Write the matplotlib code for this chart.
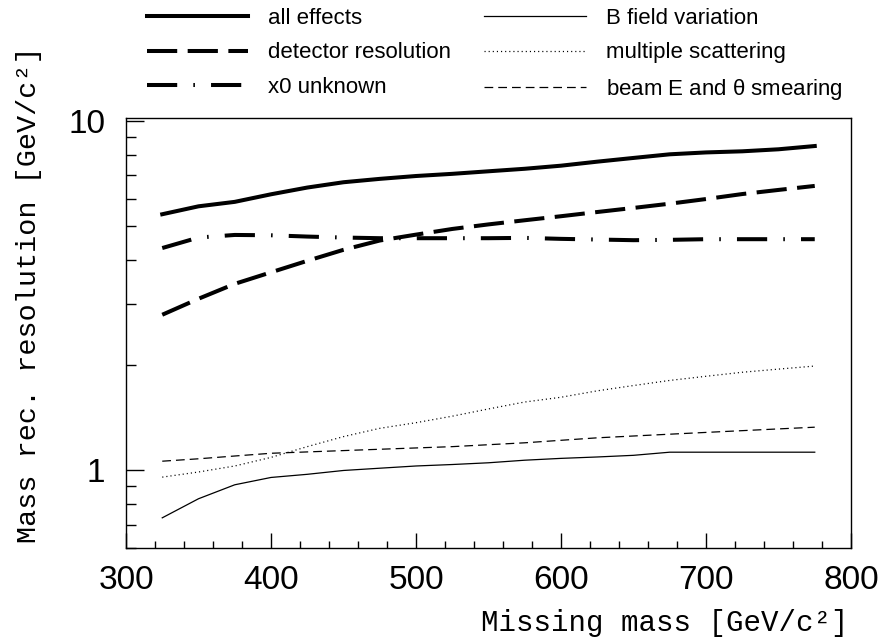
import matplotlib
matplotlib.use("Agg")
import matplotlib.pyplot as plt
from matplotlib.ticker import FixedLocator, NullFormatter

# missing mass points [GeV/c^2]
mass = [325, 350, 375, 400, 425, 450, 475, 500, 525, 550,
        575, 600, 625, 650, 675, 700, 725, 750, 775]

# mass reconstruction resolution [GeV/c^2] per effect
all_effects = [5.41, 5.70, 5.87, 6.17, 6.45, 6.68, 6.83, 6.96, 7.06, 7.18,
               7.30, 7.45, 7.65, 7.84, 8.03, 8.13, 8.19, 8.30, 8.48]
detector_res = [2.79, 3.10, 3.42, 3.69, 3.98, 4.28, 4.55, 4.73, 4.91, 5.06,
                5.20, 5.34, 5.49, 5.64, 5.80, 5.98, 6.18, 6.35, 6.52]
x0_unknown = [4.33, 4.64, 4.72, 4.71, 4.67, 4.64, 4.62, 4.62, 4.62, 4.62,
              4.63, 4.60, 4.58, 4.56, 4.57, 4.59, 4.59, 4.59, 4.59]
b_field = [0.732, 0.83, 0.91, 0.955, 0.975, 1.0, 1.015, 1.03, 1.04, 1.052,
           1.07, 1.083, 1.093, 1.105, 1.128, 1.128, 1.128, 1.128, 1.128]
mult_scatt = [0.957, 0.99, 1.03, 1.09, 1.17, 1.25, 1.32, 1.37, 1.43, 1.50,
              1.57, 1.62, 1.69, 1.75, 1.81, 1.86, 1.91, 1.95, 1.99]
beam_smear = [1.063, 1.08, 1.10, 1.12, 1.13, 1.14, 1.15, 1.16, 1.17, 1.185,
              1.20, 1.22, 1.24, 1.255, 1.27, 1.285, 1.30, 1.315, 1.33]

labels = ["all effects", "detector resolution", "x0 unknown",
          "B field variation", "multiple scattering", r"beam E and $\theta$ smearing"]

plt.rcParams['font.family'] = ['Liberation Sans', 'DejaVu Sans']
plt.rcParams['mathtext.fontset'] = 'custom'
plt.rcParams['mathtext.rm'] = 'Liberation Sans'
plt.rcParams['mathtext.it'] = 'Liberation Sans'

fig = plt.figure(figsize=(8.81, 6.41), dpi=100)
ax = fig.add_axes([126/881, 1-548/641, 725/881, 430/641])

thick = 2.9
thin = 0.9
ax.plot(mass, all_effects, color='black', lw=thick, label=labels[0])
ax.plot(mass, detector_res, color='black', lw=thick, dashes=(7.5, 2.6),
        dash_capstyle='butt', label=labels[1])
ax.plot(mass, x0_unknown, color='black', lw=thick, dashes=(7.5, 4.0, 0.4, 4.0),
        dash_capstyle='butt', label=labels[2])
ax.plot(mass, b_field, color='black', lw=thin, label=labels[3])
ax.plot(mass, mult_scatt, color='black', lw=0.9, dashes=(0.9, 2.4), label=labels[4])
ax.plot(mass, beam_smear, color='black', lw=thin, dashes=(7, 4),
        dash_capstyle='butt', label=labels[5])

ax.set_yscale('log')
ax.set_xlim(300, 800)
ax.set_ylim(0.6, 10.2)

ax.xaxis.set_major_locator(FixedLocator([300, 400, 500, 600, 700, 800]))
ax.xaxis.set_minor_locator(FixedLocator(list(range(320, 800, 20))))
ax.yaxis.set_major_locator(FixedLocator([1, 10]))
ax.yaxis.set_minor_locator(FixedLocator([0.6, 0.7, 0.8, 0.9, 2, 3, 4, 5, 6, 7, 8, 9]))
ax.yaxis.set_minor_formatter(NullFormatter())
ax.set_yticklabels(["1", "10"])

ax.tick_params(which='both', direction='in', top=False, right=False,
               labelsize=24, width=1.0)
ax.tick_params(axis='x', which='major', length=11, pad=12)
ax.tick_params(axis='x', which='minor', length=5)
ax.tick_params(axis='y', which='major', length=13, pad=15)
ax.tick_params(axis='y', which='minor', length=7)
for sp in ax.spines.values():
    sp.set_linewidth(1.0)

mono = ['Liberation Mono', 'DejaVu Sans Mono']
fig.text(665/881, 1-623/641, "Missing mass [GeV/c²]", family=mono,
         fontsize=21, ha='center', va='center')
fig.text(29/881, 1-295/641, "Mass rec. resolution [GeV/c²]", family=mono,
         fontsize=20.5, ha='center', va='center', rotation=90)

fig.legend(loc='upper left', bbox_to_anchor=(147/881, 1-8/641), ncol=2,
           frameon=False, fontsize=16, handlelength=4.55, handletextpad=0.9,
           columnspacing=1.5, labelspacing=0.6, borderpad=0, borderaxespad=0)

fig.savefig("out.png", dpi=100)
